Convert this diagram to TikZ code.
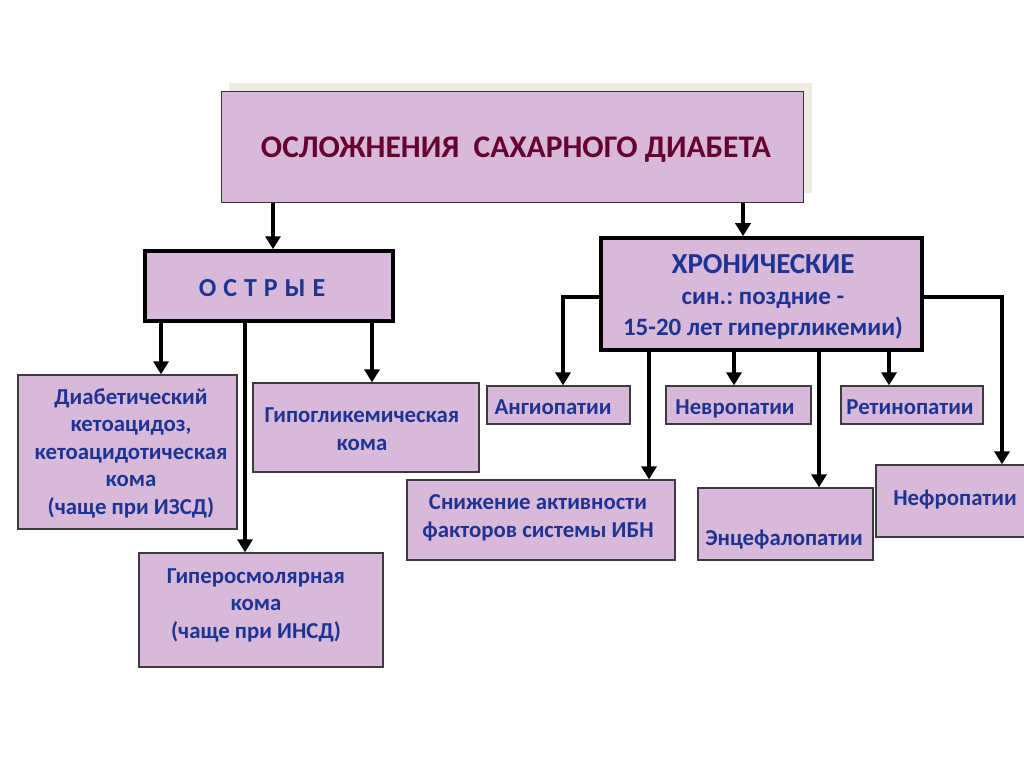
\documentclass[tikz,border=0pt]{standalone}
\usepackage{fontspec}
\setmainfont{Carlito}
\frenchspacing
\usetikzlibrary{arrows.meta}
\definecolor{boxfill}{RGB}{217,185,217}
\definecolor{shadowc}{RGB}{238,236,225}
\definecolor{txtblue}{RGB}{30,52,148}
\definecolor{txtmaroon}{RGB}{102,0,46}
\definecolor{edgegray}{RGB}{60,60,60}
\tikzset{
  box/.style={draw=edgegray, line width=1.3pt, fill=boxfill, inner sep=0pt},
  bigbox/.style={draw=black, line width=3.5pt, fill=boxfill, inner sep=0pt},
  txt/.style={text=txtblue, font=\bfseries\fontsize{22.8}{27.5}\selectfont, align=center, inner sep=0pt},
  arr/.style={line width=3.8pt, draw=black, -{Triangle[width=15pt,length=13pt]}},
  conn/.style={line width=3.8pt, draw=black}
}
\newcommand{\boxat}[6]{\node[#1, minimum width=#4-#2, minimum height=#5-#3] (#6) at ({(#2+#4)/2},{(#3+#5)/2}) {};}
\begin{document}
\begin{tikzpicture}[x=1pt,y=-1pt]
\useasboundingbox (0,0) rectangle (1024,767);
\fill[white] (0,0) rectangle (1024,767);
% title
\fill[shadowc] (229,83) rectangle (812,193);
\boxat{box, draw=black!80, line width=1pt}{221}{92}{803}{203}{title}
\node[txt, text=txtmaroon, font=\bfseries\fontsize{31.5}{36}\selectfont] (titletxt) at (516,150) {ОСЛОЖНЕНИЯ\ \ САХАРНОГО ДИАБЕТА};
% main categories
\boxat{bigbox}{145}{251}{393}{321}{ostr}
\node[txt, font=\bfseries\fontsize{26}{30}\selectfont] (ostrtxt) at (262,288) {{\spaceskip=7pt О С Т Р Ы Е}};
\boxat{bigbox}{601}{238}{922}{350}{chron}
\node[txt, font=\bfseries\fontsize{25}{31}\selectfont] (chrontxt) at (763,297) {{\fontsize{29}{31}\selectfont ХРОНИЧЕСКИЕ}\\син.: поздние -\\15-20 лет гипергликемии)};
% acute
\boxat{box}{18}{375}{237}{529}{diab}
\node[txt] (diabtxt) at (131,453) {Диабетический\\кетоацидоз,\\кетоацидотическая\\кома\\(чаще при ИЗСД)};
\boxat{box}{253}{383}{479}{472}{hypo}
\node[txt] (hypotxt) at (362,429) {Гипогликемическая\\кома};
\boxat{box}{139}{553}{383}{667}{hyper}
\node[txt] (hypertxt) at (256,605) {Гиперосмолярная\\кома\\(чаще при ИНСД)};
% chronic
\boxat{box}{487}{386}{630}{424}{ang}
\node[txt, anchor=base] (angtxt) at (553,414) {Ангиопатии};
\boxat{box}{666}{386}{811}{424}{nevr}
\node[txt, anchor=base] (nevrtxt) at (735,414) {Невропатии};
\boxat{box}{841}{386}{983}{424}{ret}
\node[txt, anchor=base] (rettxt) at (910,414) {Ретинопатии};
\boxat{box}{407}{480}{675}{560}{sniz}
\node[txt] (siztxt) at (538,518) {Снижение активности\\факторов системы ИБН};
\boxat{box}{698}{488}{873}{560}{enc}
\node[txt, anchor=base] (enctxt) at (784,545) {Энцефалопатии};
\boxat{box}{876}{465}{1030}{537}{nef}
\node[txt, anchor=base] (neftxt) at (955,505) {Нефропатии};
% arrow x positions
\coordinate (xa) at (273,0);
\coordinate (xb) at (743,0);
\coordinate (xc) at (161,0);
\coordinate (xd) at (245,0);
\coordinate (xe) at (372,0);
\coordinate (xf) at (563,297);
\coordinate (xg) at (649,0);
\coordinate (xh) at (734,0);
\coordinate (xi) at (819,0);
\coordinate (xj) at (889,0);
\coordinate (xk) at (1002,297);
% arrows
\draw[arr] (title.south -| xa) -- (ostr.north -| xa);
\draw[arr] (title.south -| xb) -- (chron.north -| xb);
\draw[arr] (ostr.south -| xc) -- (diab.north -| xc);
\draw[arr] ([yshift=2pt]ostr.south -| xd) -- (hyper.north -| xd);
\draw[arr] (ostr.south -| xe) -- (hypo.north -| xe);
\draw[arr] (chron.west |- xf) -- (xf) -- (ang.north -| xf);
\draw[arr] (chron.south -| xg) -- (sniz.north -| xg);
\draw[arr] (chron.south -| xh) -- (nevr.north -| xh);
\draw[arr] (chron.south -| xi) -- (enc.north -| xi);
\draw[arr] (chron.south -| xj) -- (ret.north -| xj);
\draw[arr] (chron.east |- xk) -- (xk) -- (nef.north -| xk);
\end{tikzpicture}
\end{document}
